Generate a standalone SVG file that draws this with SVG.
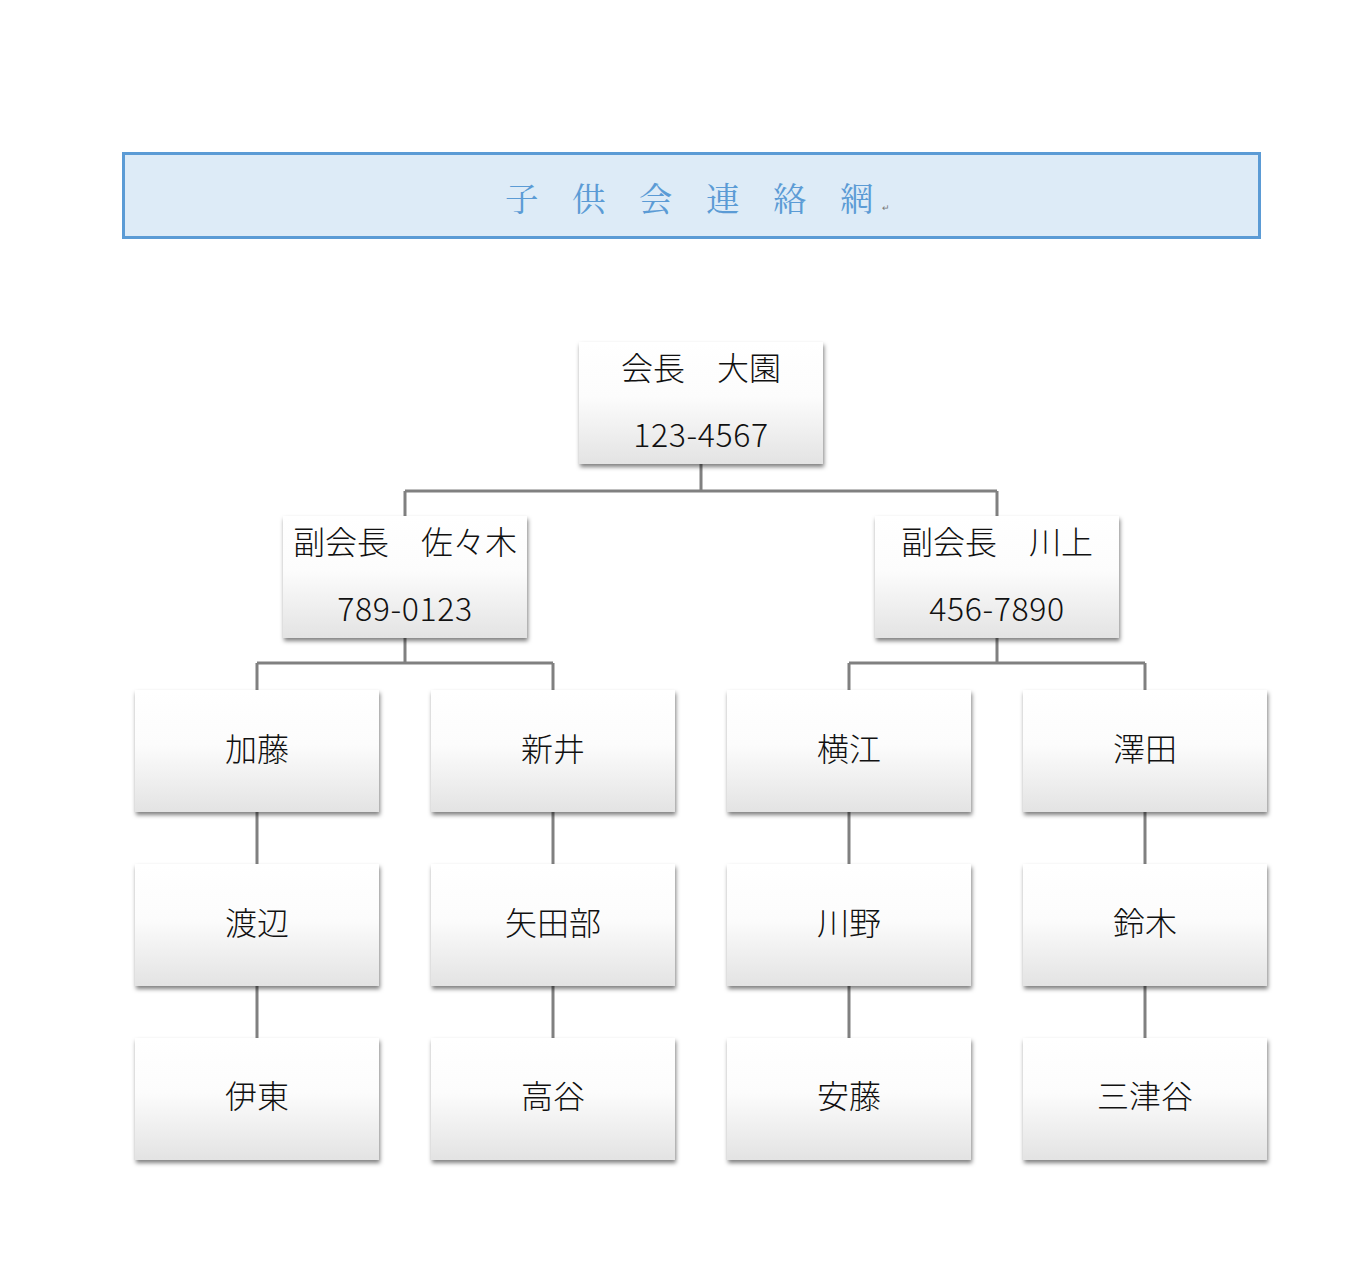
<svg xmlns="http://www.w3.org/2000/svg" width="1360" height="1278" viewBox="0 0 1360 1278">
<style>
.box{fill:url(#g);filter:url(#sh)}
.t{font-family:"Noto Sans CJK JP","Noto Sans CJK SC",sans-serif;font-size:32px;font-weight:300;fill:#111;text-anchor:middle}
.n{letter-spacing:0.6px}
.c{fill:none;stroke:#808080;stroke-width:3}
.title{font-family:"Noto Serif CJK JP","Noto Sans CJK JP",serif;font-size:33.5px;fill:#5b9bd5}
</style>
<defs>
<linearGradient id="g" x1="0" y1="0" x2="0" y2="1">
<stop offset="0" stop-color="#ffffff"/>
<stop offset="0.45" stop-color="#fcfcfc"/>
<stop offset="1" stop-color="#e3e3e3"/>
</linearGradient>
<filter id="sh" x="-10%" y="-10%" width="125%" height="130%">
<feDropShadow dx="1" dy="3" stdDeviation="2.2" flood-color="#000" flood-opacity="0.5"/>
</filter>
</defs>
<rect width="1360" height="1278" fill="#fff"/>
<g id="title">
<rect x="123.5" y="153.5" width="1136" height="84" fill="#ddebf7" stroke="#5b9bd5" stroke-width="3"/>
<text class="title" x="505" y="211">子　供　会　連　絡　網</text>
<text x="882" y="211" font-family="Liberation Sans, sans-serif" font-size="9" fill="#777">↵</text>
</g>
<g id="connectors">
<path class="c" d="M701 464V491M405 491H997M405 491V516M997 491V516"/>
<path class="c" d="M405 638V663M257 663H553M257 663V690M553 663V690"/>
<path class="c" d="M997 638V663M849 663H1145M849 663V690M1145 663V690"/>
<path class="c" d="M257 812V864M257 986V1038M553 812V864M553 986V1038M849 812V864M849 986V1038M1145 812V864M1145 986V1038"/>
</g>
<g id="n-chair"><rect class="box" x="579" y="342" width="244" height="122"/><text class="t" x="701" y="380">会長　大園</text><text class="t n" x="701" y="447">123-4567</text></g>
<g id="n-vice1"><rect class="box" x="283" y="516" width="244" height="122"/><text class="t" x="405" y="554">副会長　佐々木</text><text class="t n" x="405" y="621">789-0123</text></g>
<g id="n-vice2"><rect class="box" x="875" y="516" width="244" height="122"/><text class="t" x="997" y="554">副会長　川上</text><text class="t n" x="997" y="621">456-7890</text></g>
<g id="n-kato"><rect class="box" x="135" y="690" width="244" height="122"/><text class="t" x="257" y="761">加藤</text></g>
<g id="n-arai"><rect class="box" x="431" y="690" width="244" height="122"/><text class="t" x="553" y="761">新井</text></g>
<g id="n-yokoe"><rect class="box" x="727" y="690" width="244" height="122"/><text class="t" x="849" y="761">横江</text></g>
<g id="n-sawada"><rect class="box" x="1023" y="690" width="244" height="122"/><text class="t" x="1145" y="761">澤田</text></g>
<g id="n-watanabe"><rect class="box" x="135" y="864" width="244" height="122"/><text class="t" x="257" y="935">渡辺</text></g>
<g id="n-yatabe"><rect class="box" x="431" y="864" width="244" height="122"/><text class="t" x="553" y="935">矢田部</text></g>
<g id="n-kawano"><rect class="box" x="727" y="864" width="244" height="122"/><text class="t" x="849" y="935">川野</text></g>
<g id="n-suzuki"><rect class="box" x="1023" y="864" width="244" height="122"/><text class="t" x="1145" y="935">鈴木</text></g>
<g id="n-ito"><rect class="box" x="135" y="1038" width="244" height="122"/><text class="t" x="257" y="1108">伊東</text></g>
<g id="n-takaya"><rect class="box" x="431" y="1038" width="244" height="122"/><text class="t" x="553" y="1108">高谷</text></g>
<g id="n-ando"><rect class="box" x="727" y="1038" width="244" height="122"/><text class="t" x="849" y="1108">安藤</text></g>
<g id="n-mitsuya"><rect class="box" x="1023" y="1038" width="244" height="122"/><text class="t" x="1145" y="1108">三津谷</text></g>
</svg>
